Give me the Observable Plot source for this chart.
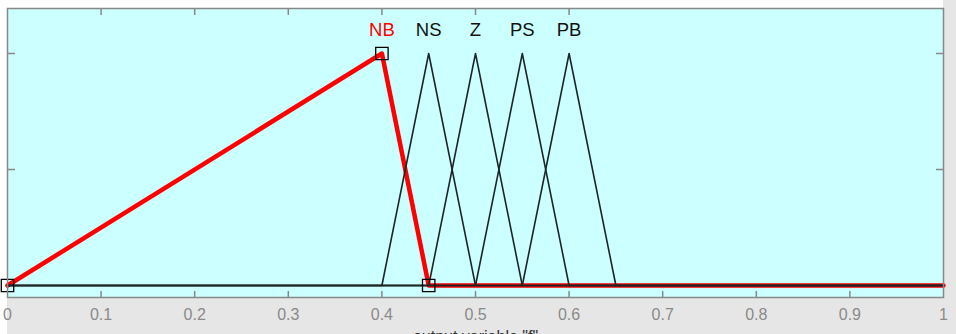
<!DOCTYPE html>
<html><head><meta charset="utf-8">
<script src="https://cdn.jsdelivr.net/npm/d3@7"></script>
<script src="https://cdn.jsdelivr.net/npm/@observablehq/plot@0.6"></script>
<style>
html,body{margin:0;padding:0;background:#fff;overflow:hidden}
#chart svg{display:block;background:
 linear-gradient(#fff,#fff) 0 0/943px 8px no-repeat,
 linear-gradient(#fff,#fff) 0 0/7px 100% no-repeat,
 #e6e6e6 !important;}
</style></head><body><div id="chart"></div>
<script>
// membership functions (triangular): left foot, peak, right foot
const mfNames = ["NB", "NS", "Z", "PS", "PB"];
const mfLeft  = [0.00, 0.40, 0.45, 0.50, 0.55];
const mfPeak  = [0.40, 0.45, 0.50, 0.55, 0.60];
const mfRight = [0.45, 0.50, 0.55, 0.60, 0.65];
const selectedMF = 0;
const rangeMin = 0, rangeMax = 1;
const xTicks = [0, 0.1, 0.2, 0.3, 0.4, 0.5, 0.6, 0.7, 0.8, 0.9, 1];
const xTickLabels = ["0", "0.1", "0.2", "0.3", "0.4", "0.5", "0.6", "0.7", "0.8", "0.9", "1"];
const yTicks = [0.5, 1];
const axisTitle = 'output variable "f"';

function mfCurve(i) {
  return [
    {x: rangeMin, y: 0},
    {x: mfLeft[i], y: 0},
    {x: mfPeak[i], y: 1},
    {x: mfRight[i], y: 0},
    {x: rangeMax, y: 0}
  ];
}
const vertices = [
  {x: mfLeft[selectedMF], y: 0},
  {x: mfPeak[selectedMF], y: 1},
  {x: mfRight[selectedMF], y: 0}
];
const labels = mfNames.map((n, i) => ({name: n, x: mfPeak[i], sel: i === selectedMF}));

const font = "'Liberation Sans', Arial, Helvetica, sans-serif";
const others = mfNames.map((_, i) => i).filter(i => i !== selectedMF);

const plot = Plot.plot({
  width: 956, height: 334,
  marginLeft: 7, marginRight: 13, marginTop: 8, marginBottom: 37,
  x: {domain: [rangeMin, rangeMax]},
  y: {domain: [-0.0517, 1.194]},
  style: {fontFamily: font, overflow: "visible"},
  marks: [
    Plot.frame({fill: "#ccffff"}),
    Plot.axisX({anchor: "bottom", ticks: xTicks.slice(1, -1), tickSize: -6, tickFormat: () => "", stroke: "#888", strokeWidth: 1.5, label: null}),
    Plot.axisX({anchor: "top", ticks: xTicks.slice(1, 7), tickSize: -6, tickFormat: () => "", stroke: "#888", strokeWidth: 1.5, label: null}),
    Plot.axisX({anchor: "bottom", ticks: xTicks, tickSize: 0, tickPadding: 11,
      tickFormat: d => xTickLabels[xTicks.indexOf(d)], fill: "#8a8a8a", fontSize: 16, label: null}),
    Plot.axisY({anchor: "left", ticks: yTicks, tickSize: -8, tickFormat: () => "", stroke: "#888", strokeWidth: 1.5, label: null}),
    Plot.axisY({anchor: "right", ticks: yTicks, tickSize: -8, tickFormat: () => "", stroke: "#888", strokeWidth: 1.5, label: null}),
    Plot.line(mfCurve(selectedMF), {x: "x", y: "y", stroke: "#ff0000", strokeWidth: 4.5, strokeLinejoin: "round"}),
    ...others.map(i => Plot.line(mfCurve(i), {x: "x", y: "y", stroke: "#1c2626", strokeWidth: 1.6})),
    Plot.dot(vertices, {x: "x", y: "y", symbol: "square", r: 7, stroke: "#000", strokeWidth: 1.3, fill: "none"}),
    Plot.text(labels, {x: "x", frameAnchor: "top", dy: 22, lineAnchor: "middle", text: "name",
      fill: d => d.sel ? "#ff0000" : "#111", fontSize: 18.5}),
    Plot.text([axisTitle], {frameAnchor: "bottom", dy: 39, lineAnchor: "middle", text: d => d, fill: "#333", fontSize: 16}),
    Plot.frame({stroke: "#888", strokeWidth: 1.5})
  ]
});
document.getElementById("chart").appendChild(plot);
</script>
</body></html>
